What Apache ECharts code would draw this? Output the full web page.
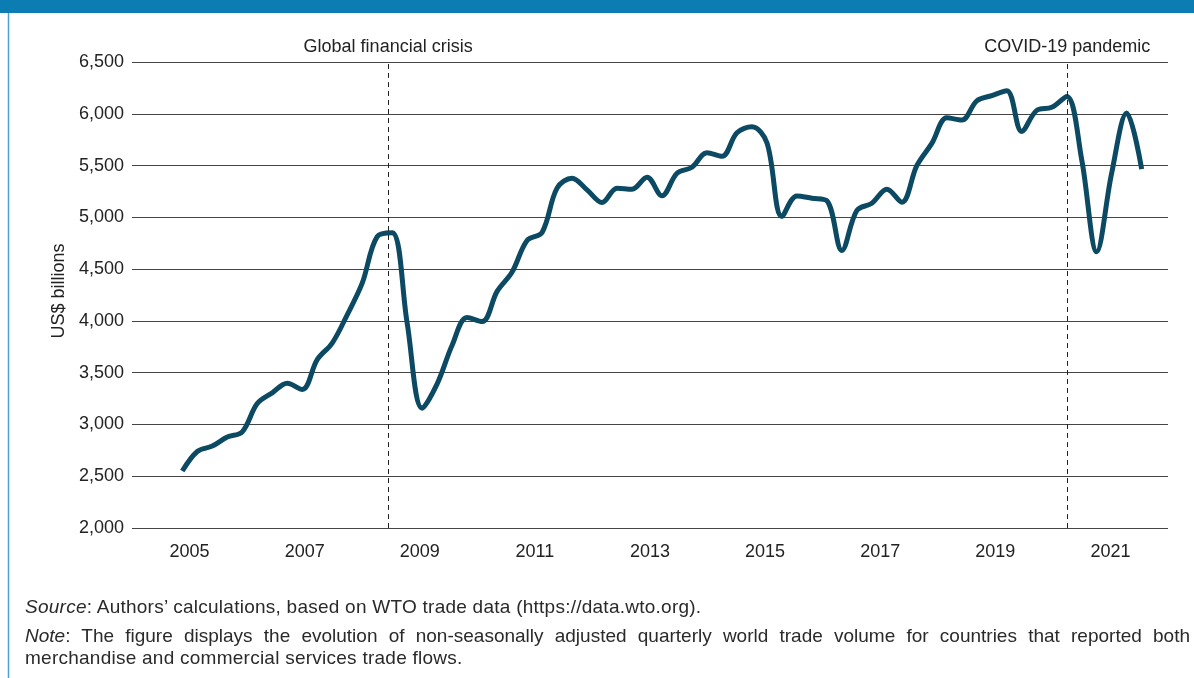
<!DOCTYPE html>
<html>
<head>
<meta charset="utf-8">
<script src="https://cdn.jsdelivr.net/npm/echarts@6/dist/echarts.min.js"></script>
<style>
  html, body { margin: 0; padding: 0; background: #fff; }
  #wrap { position: relative; width: 1194px; height: 678px; overflow: hidden; }
  #chart { position: absolute; left: 0; top: 0; width: 1194px; height: 678px; }
  .foot { position: absolute; left: 25px; font-family: "Liberation Sans", Arial, sans-serif; font-size: 19px; letter-spacing: 0.25px; color: #2a2a2a; line-height: 22px; white-space: nowrap; }
  .just { width: 1165px; text-align: justify; text-align-last: justify; white-space: normal; letter-spacing: 0; }
</style>
</head>
<body>
<div id="wrap">
  <div id="chart"></div>
  <div class="foot" style="top:596px;"><i>Source</i>: Authors’ calculations, based on WTO trade data (https://data.wto.org).</div>
  <div class="foot just" style="top:625px;"><i>Note</i>: The figure displays the evolution of non-seasonally adjusted quarterly world trade volume for countries that reported both</div>
  <div class="foot" style="top:647px;">merchandise and commercial services trade flows.</div>
</div>
<script>
// Quarterly periods (2005Q1 – 2021Q1)
const quarters = [
  '2005Q1','2005Q2','2005Q3','2005Q4','2006Q1','2006Q2','2006Q3','2006Q4',
  '2007Q1','2007Q2','2007Q3','2007Q4','2008Q1','2008Q2','2008Q3','2008Q4',
  '2009Q1','2009Q2','2009Q3','2009Q4','2010Q1','2010Q2','2010Q3','2010Q4',
  '2011Q1','2011Q2','2011Q3','2011Q4','2012Q1','2012Q2','2012Q3','2012Q4',
  '2013Q1','2013Q2','2013Q3','2013Q4','2014Q1','2014Q2','2014Q3','2014Q4',
  '2015Q1','2015Q2','2015Q3','2015Q4','2016Q1','2016Q2','2016Q3','2016Q4',
  '2017Q1','2017Q2','2017Q3','2017Q4','2018Q1','2018Q2','2018Q3','2018Q4',
  '2019Q1','2019Q2','2019Q3','2019Q4','2020Q1','2020Q2','2020Q3','2020Q4',
  '2021Q1'
];
// World trade, US$ billions
const tradeValues = [
  2550, 2739, 2791, 2878, 2929, 3202, 3305, 3398,
  3337, 3626, 3786, 4059, 4364, 4814, 4852, 3979,
  3157, 3392, 3765, 4032, 3993, 4285, 4472, 4777,
  4854, 5282, 5378, 5265, 5143, 5282, 5272, 5388,
  5208, 5426, 5484, 5624, 5589, 5817, 5875, 5721,
  5008, 5207, 5184, 5160, 4680, 5066, 5136, 5271,
  5146, 5499, 5714, 5961, 5939, 6125, 6175, 6223,
  5830, 6033, 6062, 6168, 5557, 4668, 5428, 6007,
  5466
];
// Axis labels shown on the x axis
const yearLabels = [2005, 2007, 2009, 2011, 2013, 2015, 2017, 2019, 2021];
// Event markers (positions on the year-label axis)
const eventNames = ['Global financial crisis', 'COVID-19 pandemic'];
const eventYears = [2008.45, 2020.25];

const FONT = '"Liberation Sans", Arial, sans-serif';
const TXT = '#222';

const seriesData = quarters.map((q, i) => {
  const y = parseInt(q.slice(0, 4), 10);
  const qn = parseInt(q.slice(5), 10);
  return [y + (qn - 1) / 4, tradeValues[i]];
});

const chart = echarts.init(document.getElementById('chart'));
chart.setOption({
  animation: false,
  backgroundColor: '#fff',
  textStyle: { fontFamily: FONT },
  grid: { left: 132, right: 26, top: 62, bottom: 150, containLabel: false },
  xAxis: [
    { type: 'value', min: 2004.161, max: 2021.439, show: false },
    {
      type: 'value', min: 2004, max: 2022, interval: 1, position: 'bottom',
      axisLine: { show: false }, axisTick: { show: false }, splitLine: { show: false },
      axisLabel: {
        margin: 15, fontSize: 18, color: TXT, fontFamily: FONT,
        formatter: v => yearLabels.indexOf(v) >= 0 ? String(v) : ''
      }
    }
  ],
  yAxis: {
    type: 'value', min: 2000, max: 6500, interval: 500,
    axisLine: { show: false }, axisTick: { show: false },
    splitLine: { show: true, lineStyle: { color: '#454545', width: 1 } },
    axisLabel: {
      margin: 8, fontSize: 18, color: TXT, fontFamily: FONT,
      formatter: v => v.toLocaleString('en-US')
    }
  },
  graphic: [
    { type: 'rect', left: 0, top: 0, shape: { width: 1194, height: 13 }, style: { fill: '#0b7db2' }, silent: true },
    { type: 'line', shape: { x1: 8.5, y1: 13, x2: 8.5, y2: 678 }, style: { stroke: '#4a9fd4', lineWidth: 1.5 }, silent: true },
    {
      type: 'text', x: 59, y: 291, rotation: Math.PI / 2,
      style: { text: 'US$ billions', fill: TXT, font: '18px ' + FONT, textAlign: 'center', textVerticalAlign: 'middle' },
      silent: true
    }
  ],
  series: [
    {
      type: 'line', xAxisIndex: 0, yAxisIndex: 0,
      data: seriesData, smooth: 0.35, symbol: 'none',
      lineStyle: { width: 5, color: '#0b4a62', cap: 'butt' }
    },
    {
      type: 'line', xAxisIndex: 1, yAxisIndex: 0, data: [],
      markLine: {
        silent: true, symbol: 'none', animation: false,
        lineStyle: { type: [5, 4], color: '#222', width: 1 },
        label: { show: true, position: 'end', formatter: '{b}', fontSize: 18, color: TXT, fontFamily: FONT, distance: 6 },
        data: eventNames.map((n, i) => ({ name: n, xAxis: eventYears[i] }))
      }
    }
  ]
});
</script>
</body>
</html>
